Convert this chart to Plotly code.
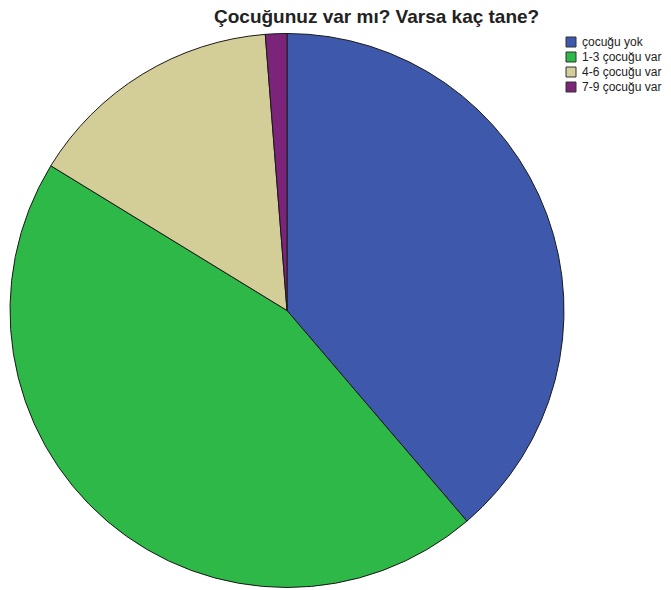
import plotly.graph_objects as go

labels = ["çocuğu yok", "1-3 çocuğu var", "4-6 çocuğu var", "7-9 çocuğu var"]
counts = [31, 36, 12, 1]
colors = ["#3e58ac", "#2eb848", "#d3ce97", "#7b2479"]

W, H = 671, 590
FONT = "Liberation Sans, Arial"
fig = go.Figure(go.Pie(
    labels=labels, values=counts, sort=False, direction="clockwise", rotation=0,
    marker=dict(colors=colors, line=dict(color="#1a1a1a", width=1)),
    textinfo="none", hoverinfo="label+value+percent",
    domain=dict(x=[10 / W, 564 / W], y=[1 - 588 / H, 1 - 33 / H]),
))

shapes, annotations = [], []
# legend (drawn as layout decoration)
for i, (lab, col) in enumerate(zip(labels, colors)):
    yc = 42 + 15 * i
    shapes.append(dict(type="rect", xref="paper", yref="paper",
                       x0=566 / W, x1=576 / W, y0=1 - (yc + 5) / H, y1=1 - (yc - 5) / H,
                       fillcolor=col, line=dict(color="#333", width=1)))
    annotations.append(dict(text=lab, x=580 / W, y=1 - yc / H, xref="paper", yref="paper",
                            showarrow=False, xanchor="left", yanchor="middle",
                            font=dict(size=12, family=FONT, color="#222")))
annotations.append(dict(text="<b>Çocuğunuz var mı? Varsa kaç tane?</b>", x=376 / W, y=1 - 17 / H,
                        xref="paper", yref="paper", showarrow=False, xanchor="center", yanchor="middle",
                        font=dict(size=19, family=FONT, color="#222")))

fig.update_layout(
    width=W, height=H, margin=dict(l=0, r=0, t=0, b=0),
    paper_bgcolor="white", plot_bgcolor="white",
    font=dict(family=FONT, color="#222"),
    showlegend=False, shapes=shapes, annotations=annotations,
)
fig.write_html("out.html", config={"displayModeBar": False},
               post_script="document.body.style.margin='0';document.body.style.overflow='hidden';")
